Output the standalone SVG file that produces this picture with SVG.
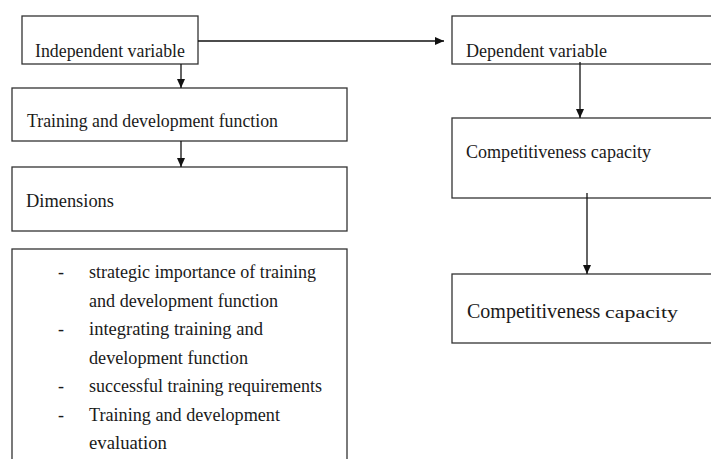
<svg xmlns="http://www.w3.org/2000/svg" width="711" height="459" viewBox="0 0 711 459">
<defs>
<style>
.box{fill:#fff;stroke:#333;stroke-width:1.3}
.t{font-family:"Liberation Serif","Times New Roman",serif;font-size:18px;fill:#1a1a1a}
.ln{stroke:#111;stroke-width:1.3;fill:none}
</style>
<marker id="ah" markerWidth="10" markerHeight="10" refX="9" refY="4.5" orient="auto" markerUnits="userSpaceOnUse">
<path d="M0,0.5 L9,4.5 L0,8.5 Z" fill="#111"/>
</marker>
</defs>
<rect width="711" height="459" fill="#fff"/>
<g id="independent">
<rect class="box" x="22" y="16" width="176" height="48"/>
<text class="t" x="35" y="57" textLength="150" lengthAdjust="spacingAndGlyphs">Independent variable</text>
</g>
<g id="training">
<rect class="box" x="12" y="88" width="335" height="53"/>
<text class="t" x="27" y="127" textLength="251" lengthAdjust="spacingAndGlyphs">Training and development function</text>
</g>
<g id="dimensions">
<rect class="box" x="12" y="167" width="335" height="64"/>
<text class="t" x="26" y="207" textLength="88" lengthAdjust="spacingAndGlyphs">Dimensions</text>
</g>
<g id="list">
<rect class="box" x="12" y="249" width="335" height="230"/>
<g class="t">
<text x="58" y="278">-</text>
<text x="89" y="278" textLength="227" lengthAdjust="spacingAndGlyphs">strategic importance of training</text>
<text x="89" y="306.5" textLength="189" lengthAdjust="spacingAndGlyphs">and development function</text>
<text x="58" y="335">-</text>
<text x="89" y="335" textLength="174" lengthAdjust="spacingAndGlyphs">integrating training and</text>
<text x="89" y="363.5" textLength="159" lengthAdjust="spacingAndGlyphs">development function</text>
<text x="58" y="392">-</text>
<text x="89" y="392" textLength="233" lengthAdjust="spacingAndGlyphs">successful training requirements</text>
<text x="58" y="420.5">-</text>
<text x="89" y="420.5" textLength="191" lengthAdjust="spacingAndGlyphs">Training and development</text>
<text x="89" y="449" textLength="78" lengthAdjust="spacingAndGlyphs">evaluation</text>
</g>
</g>
<g id="dependent">
<rect class="box" x="452" y="16" width="270" height="48"/>
<text class="t" x="466" y="57" textLength="141" lengthAdjust="spacingAndGlyphs">Dependent variable</text>
</g>
<g id="competitiveness1">
<rect class="box" x="452" y="118" width="270" height="80"/>
<text class="t" x="466" y="158" textLength="185" lengthAdjust="spacingAndGlyphs">Competitiveness capacity</text>
</g>
<g id="competitiveness2">
<rect class="box" x="452" y="274" width="270" height="69"/>
<text class="t" x="467" y="318" style="font-size:20px">Competitiveness</text>
<text class="t" x="605" y="318" style="font-size:17px" textLength="73" lengthAdjust="spacingAndGlyphs">capacity</text>
</g>
<g id="connectors">
<line class="ln" x1="181" y1="64" x2="181" y2="88" marker-end="url(#ah)"/>
<line class="ln" x1="181" y1="141" x2="181" y2="167" marker-end="url(#ah)"/>
<line class="ln" x1="198" y1="41" x2="444" y2="41" marker-end="url(#ah)"/>
<line class="ln" x1="580" y1="62" x2="580" y2="118" marker-end="url(#ah)"/>
<line class="ln" x1="587" y1="193" x2="587" y2="274" marker-end="url(#ah)"/>
</g>
</svg>
